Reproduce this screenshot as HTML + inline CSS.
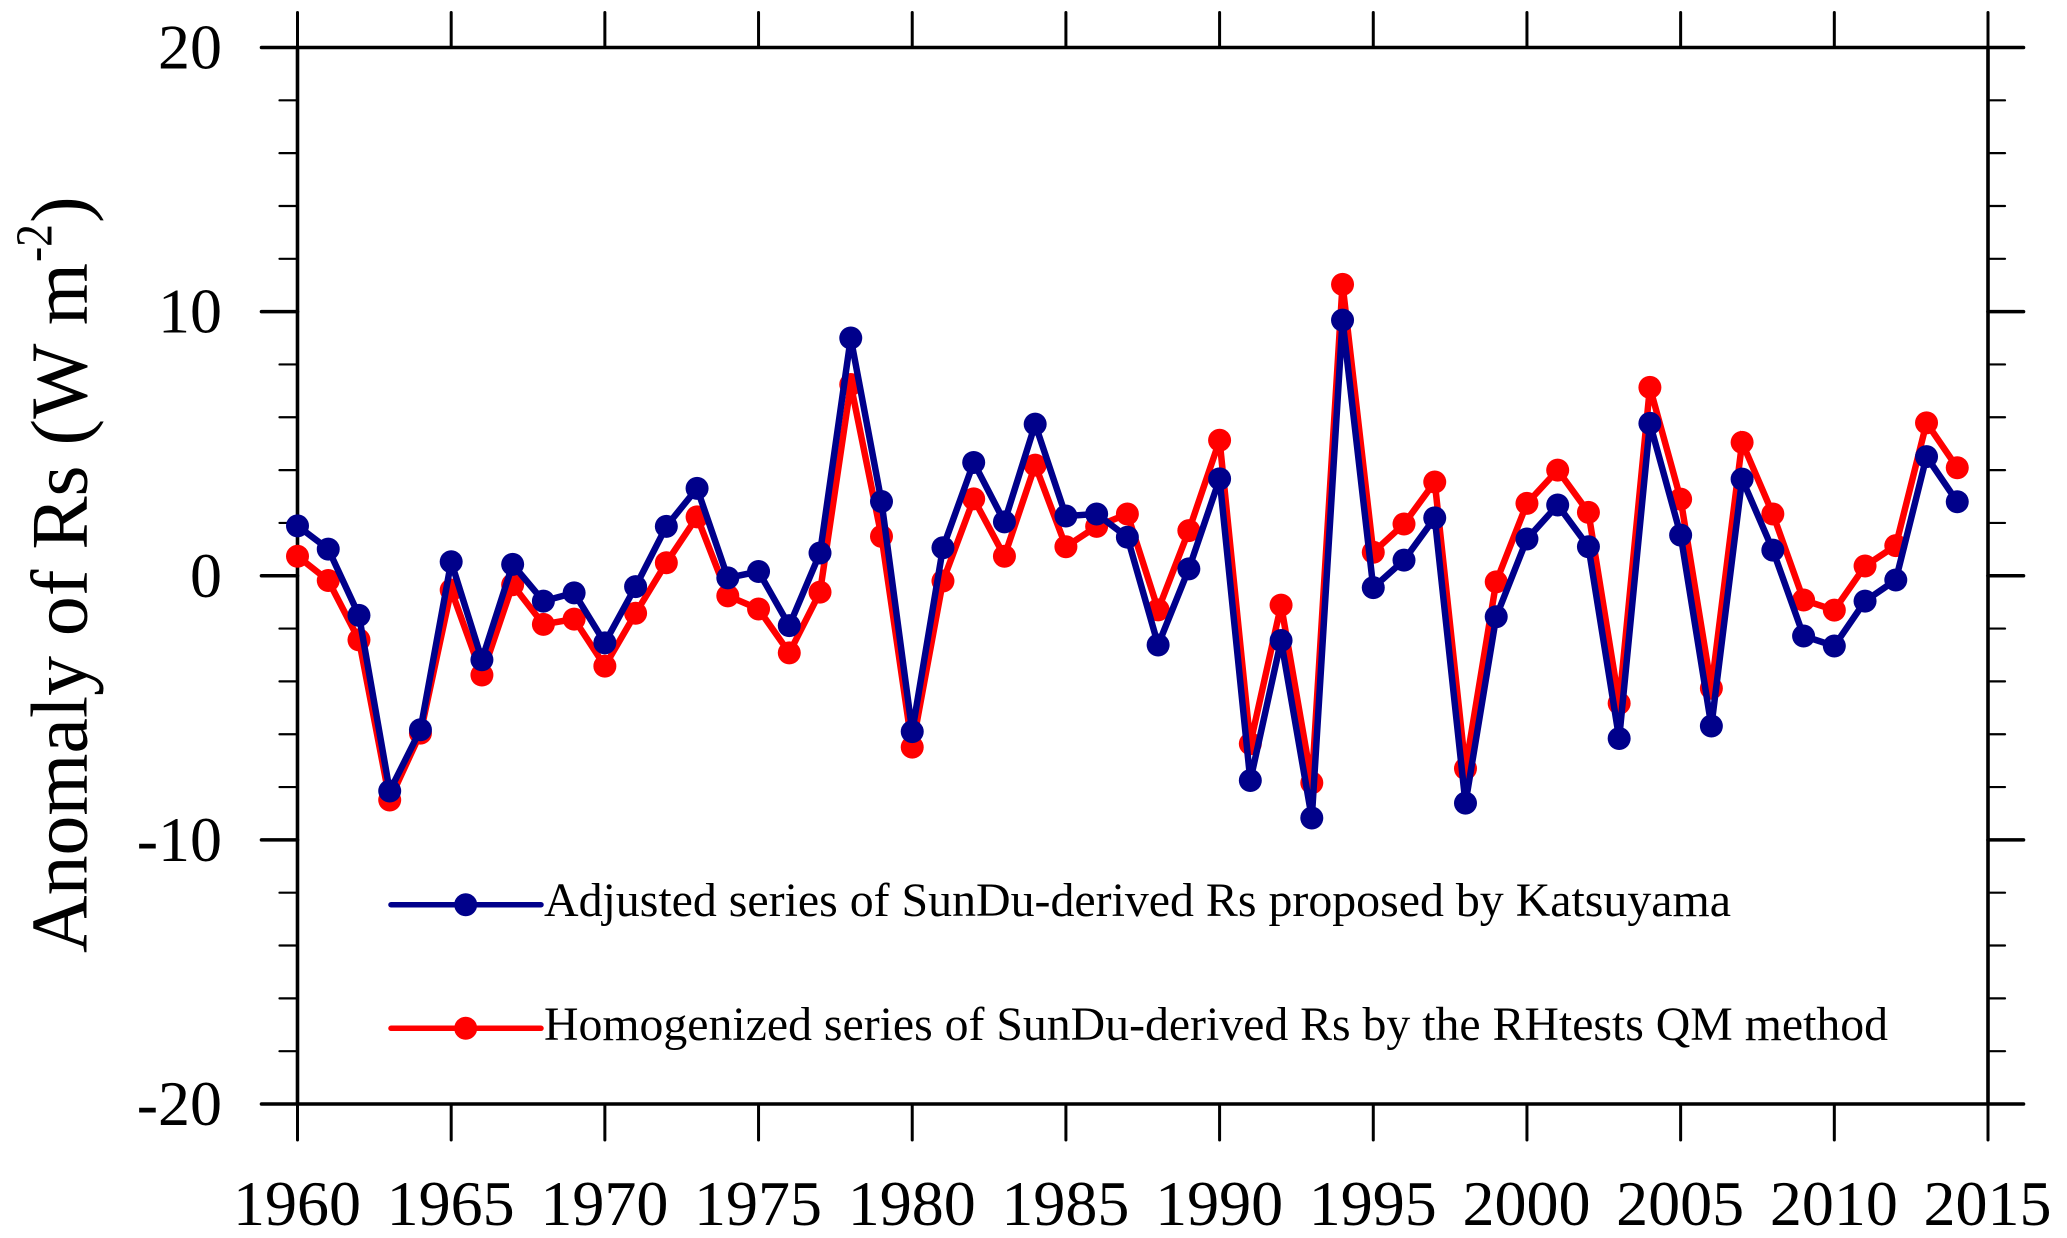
<!DOCTYPE html>
<html lang="en">
<head>
<meta charset="utf-8">
<title>Anomaly of Rs</title>
<style>
html,body{margin:0;padding:0;background:#fff;width:2067px;height:1238px;overflow:hidden}
svg{display:block}
text{font-family:"Liberation Serif","Times New Roman",serif;fill:#000}
</style>
</head>
<body>
<svg id="chart" xmlns="http://www.w3.org/2000/svg" width="2067" height="1238" viewBox="0 0 2067 1238">
  <rect width="2067" height="1238" fill="#fff"/>
  <g id="axes"></g>
  <g id="series"></g>
  <g transform="translate(86.7,953) rotate(-90)">
    <text x="0" y="0" font-size="80" textLength="690" lengthAdjust="spacingAndGlyphs">Anomaly of Rs (W m</text>
    <text x="691" y="-35" font-size="52" textLength="38" lengthAdjust="spacingAndGlyphs">-2</text>
    <text x="730" y="0" font-size="80">)</text>
  </g>
  <g>
    <g>
      <line x1="391" y1="904.7" x2="541" y2="904.7" stroke="#00008b" stroke-width="5.5" stroke-linecap="round"/>
      <circle cx="465.7" cy="904.7" r="11.5" fill="#00008b"/>
      <text x="544" y="916" font-size="48" textLength="1187" lengthAdjust="spacingAndGlyphs">Adjusted series of SunDu-derived Rs proposed by Katsuyama</text>
    </g>
    <g>
      <line x1="391" y1="1028.3" x2="541" y2="1028.3" stroke="#ff0000" stroke-width="5.5" stroke-linecap="round"/>
      <circle cx="465.7" cy="1028.3" r="11.5" fill="#ff0000"/>
      <text x="544" y="1040" font-size="48" textLength="1344" lengthAdjust="spacingAndGlyphs">Homogenized series of SunDu-derived Rs by the RHtests QM method</text>
    </g>
  </g>
</svg>
<script>
var years = [1960,1961,1962,1963,1964,1965,1966,1967,1968,1969,1970,1971,1972,1973,1974,1975,1976,1977,1978,1979,1980,1981,1982,1983,1984,1985,1986,1987,1988,1989,1990,1991,1992,1993,1994,1995,1996,1997,1998,1999,2000,2001,2002,2003,2004,2005,2006,2007,2008,2009,2010,2011,2012,2013,2014];
var adjusted = [1.89,1.01,-1.50,-8.15,-5.83,0.53,-3.18,0.43,-0.96,-0.65,-2.54,-0.41,1.87,3.31,-0.08,0.16,-1.89,0.86,9.00,2.81,-5.90,1.06,4.29,2.04,5.74,2.26,2.34,1.46,-2.62,0.26,3.67,-7.75,-2.45,-9.17,9.68,-0.45,0.59,2.19,-8.61,-1.55,1.39,2.68,1.10,-6.16,5.77,1.54,-5.69,3.66,0.97,-2.28,-2.66,-0.96,-0.16,4.51,2.80];
var homogenized = [0.74,-0.18,-2.43,-8.49,-5.96,-0.54,-3.76,-0.34,-1.84,-1.64,-3.42,-1.42,0.49,2.23,-0.76,-1.26,-2.92,-0.62,7.24,1.49,-6.49,-0.20,2.91,0.74,4.19,1.10,1.87,2.34,-1.29,1.71,5.13,-6.36,-1.11,-7.84,11.03,0.89,1.96,3.55,-7.30,-0.23,2.74,4.00,2.40,-4.83,7.13,2.90,-4.26,5.05,2.34,-0.92,-1.30,0.37,1.14,5.79,4.09];
var xTickLabels = ["1960","1965","1970","1975","1980","1985","1990","1995","2000","2005","2010","2015"];
var yTickLabels = ["20","10","0","-10","-20"];
var yMinorTicks = [18,16,14,12,8,6,4,2,-2,-4,-6,-8,-12,-14,-16,-18];

var NS = "http://www.w3.org/2000/svg";
function xScale(year){ return 297.5 + (year - 1960) * (1988 - 297.5) / 55; }
function yScale(v){ return 575.75 - v * (1104 - 47.5) / 40; }

function makeLine(parent, x1, y1, x2, y2, w){
  var el = document.createElementNS(NS, "line");
  el.setAttribute("x1", x1);
  el.setAttribute("y1", y1);
  el.setAttribute("x2", x2);
  el.setAttribute("y2", y2);
  el.setAttribute("stroke", "#000");
  el.setAttribute("stroke-width", w);
  el.setAttribute("stroke-linecap", "round");
  parent.appendChild(el);
  return el;
}

var axes = document.getElementById("axes");
var L = xScale(1960), R = xScale(2015), T = yScale(20), B = yScale(-20);
var el;

el = makeLine(axes, L, T, L, B, 3.6);


el = makeLine(axes, R, T, R, B, 3.6);


el = makeLine(axes, L, T, R, T, 3.6);


el = makeLine(axes, L, B, R, B, 3.6);



xTickLabels.forEach(function(label){
  var x = xScale(Number(label));
  var t1 = makeLine(axes, x, B, x, 1140, 3);
  
  
  var t2 = makeLine(axes, x, T, x, 12.5, 3);
  
  
  var tx = document.createElementNS(NS, "text");
  tx.setAttribute("x", x - 0.5);
  tx.setAttribute("y", 1225);
  tx.setAttribute("font-size", "64");
  tx.setAttribute("text-anchor", "middle");
  tx.textContent = label;
  
  
  axes.appendChild(tx);
});

yTickLabels.forEach(function(label){
  var y = yScale(Number(label));
  var t1 = makeLine(axes, 261.5, y, L, y, 3.6);
  
  
  var t2 = makeLine(axes, R, y, 2023.5, y, 3.6);
  
  
  var tx = document.createElementNS(NS, "text");
  tx.setAttribute("x", 222);
  tx.setAttribute("y", y + 21);
  tx.setAttribute("font-size", "64");
  tx.setAttribute("text-anchor", "end");
  tx.textContent = label;
  
  
  axes.appendChild(tx);
});

yMinorTicks.forEach(function(v){
  var y = yScale(v);
  var t1 = makeLine(axes, 279.5, y, L, y, 2.2);
  
  
  var t2 = makeLine(axes, R, y, 2005, y, 2.2);
  
  
});

var seriesGroup = document.getElementById("series");

function drawSeries(values, color, key){
  var pts = values.map(function(v, i){ return xScale(years[i]).toFixed(2) + "," + yScale(v).toFixed(2); }).join(" ");
  var line = document.createElementNS(NS, "polyline");
  line.setAttribute("points", pts);
  line.setAttribute("fill", "none");
  line.setAttribute("stroke", color);
  line.setAttribute("stroke-width", "6.5");
  line.setAttribute("stroke-linejoin", "miter");
  
  
  seriesGroup.appendChild(line);
  values.forEach(function(v, i){
    var c = document.createElementNS(NS, "circle");
    c.setAttribute("cx", xScale(years[i]));
    c.setAttribute("cy", yScale(v));
    c.setAttribute("r", "11.5");
    c.setAttribute("fill", color);
    
    
    seriesGroup.appendChild(c);
  });
}
drawSeries(homogenized, "#ff0000", "homogenized");
drawSeries(adjusted, "#00008b", "adjusted");
</script>
</body>
</html>
